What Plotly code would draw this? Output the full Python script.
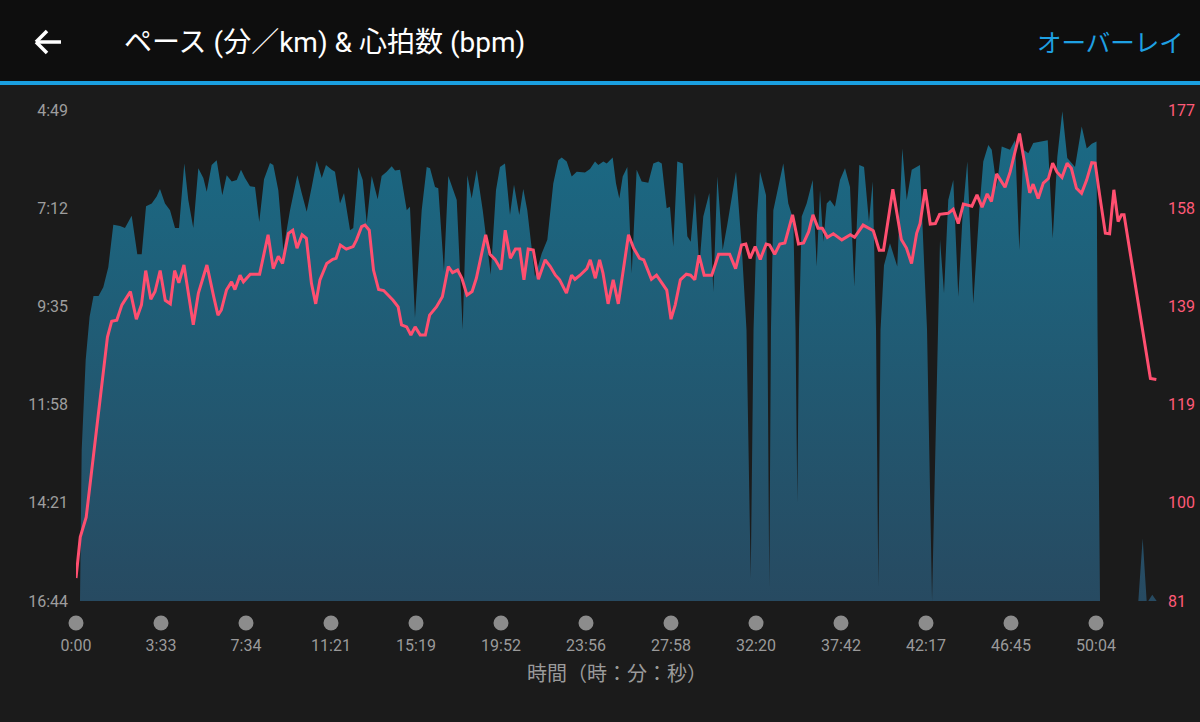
import plotly.graph_objects as go

# ---------------- data ----------------
# x position: 0..12 = evenly spaced split markers on the x axis (labels are elapsed time)
tick_pos = list(range(13))
tick_labels = ["0:00", "3:33", "7:34", "11:21", "15:19", "19:52", "23:56",
               "27:58", "32:20", "37:42", "42:17", "46:45", "50:04"]

# Pace (seconds per km); 1004 s (16:44) = bottom of the axis / no pace
pace_pos = [0.047, 0.067, 0.114, 0.160, 0.206, 0.265, 0.321, 0.380, 0.439, 0.518, 0.576, 0.655,
            0.721, 0.773, 0.824, 0.891, 0.949, 0.988, 1.047, 1.106, 1.165, 1.212, 1.274, 1.321,
            1.380, 1.439, 1.498, 1.538, 1.596, 1.655, 1.721, 1.773, 1.832, 1.891, 1.941, 1.988,
            2.047, 2.106, 2.156, 2.212, 2.282, 2.321, 2.380, 2.439, 2.518, 2.604, 2.655, 2.714,
            2.773, 2.832, 2.891, 2.941, 3.008, 3.047, 3.106, 3.153, 3.224, 3.262, 3.321, 3.373,
            3.420, 3.479, 3.549, 3.596, 3.655, 3.714, 3.753, 3.812, 3.891, 3.929, 3.988, 4.067,
            4.126, 4.165, 4.224, 4.262, 4.329, 4.380, 4.479, 4.549, 4.604, 4.655, 4.714, 4.785,
            4.879, 4.941, 4.988, 5.047, 5.106, 5.153, 5.215, 5.262, 5.309, 5.400, 5.479, 5.545,
            5.615, 5.674, 5.714, 5.773, 5.832, 5.891, 5.988, 6.047, 6.106, 6.145, 6.204, 6.244,
            6.314, 6.353, 6.392, 6.432, 6.486, 6.538, 6.596, 6.655, 6.733, 6.792, 6.851, 6.891,
            6.949, 6.988, 7.027, 7.074, 7.138, 7.192, 7.232, 7.282, 7.333, 7.380, 7.451, 7.498,
            7.545, 7.608, 7.662, 7.765, 7.832, 7.888, 7.938, 7.971, 8.012, 8.047, 8.118, 8.135,
            8.156, 8.176, 8.204, 8.321, 8.380, 8.439, 8.465, 8.486, 8.506, 8.538, 8.596, 8.667,
            8.714, 8.753, 8.792, 8.832, 8.871, 8.929, 8.988, 9.047, 9.106, 9.156, 9.215, 9.271,
            9.329, 9.373, 9.412, 9.439, 9.465, 9.506, 9.576, 9.662, 9.721, 9.773, 9.832, 9.929,
            9.976, 10.012, 10.071, 10.138, 10.165, 10.212, 10.262, 10.321, 10.380, 10.432, 10.486,
            10.556, 10.627, 10.674, 10.733, 10.773, 10.832, 10.891, 10.988, 11.047, 11.098, 11.145,
            11.204, 11.262, 11.341, 11.432, 11.491, 11.545, 11.604, 11.662, 11.753, 11.832, 11.891,
            11.951, 12.006, 12.018, 12.047, 12.498, 12.549, 12.596, 12.615, 12.662, 12.714]
pace_sec = [1004, 784, 653, 590, 560, 560, 547, 518, 456, 458, 461, 443,
            499, 499, 429, 425, 415, 404, 425, 435, 461, 461, 367, 420,
            461, 374, 388, 408, 369, 362, 413, 384, 393, 391, 376, 388,
            400, 401, 452, 390, 366, 369, 406, 493, 435, 384, 410, 437,
            401, 363, 388, 369, 376, 379, 425, 410, 464, 461, 372, 391,
            454, 385, 419, 385, 379, 371, 377, 376, 435, 430, 592, 435,
            372, 374, 401, 403, 524, 385, 420, 609, 384, 418, 376, 435,
            529, 406, 372, 367, 442, 398, 442, 404, 435, 532, 498, 478,
            396, 362, 358, 364, 386, 379, 380, 375, 364, 369, 364, 367,
            358, 396, 418, 386, 372, 527, 376, 393, 395, 367, 364, 367,
            432, 430, 488, 364, 367, 473, 481, 410, 517, 444, 410, 554,
            386, 493, 456, 379, 488, 609, 971, 609, 442, 379, 413, 609,
            985, 609, 435, 367, 425, 449, 609, 861, 609, 444, 425, 391,
            517, 406, 481, 425, 420, 430, 391, 374, 401, 546, 369, 372,
            452, 393, 609, 984, 609, 515, 483, 517, 345, 420, 376, 369,
            507, 609, 1004, 609, 478, 556, 420, 391, 561, 439, 364,
            571, 435, 364, 340, 347, 401, 342, 347, 333, 493, 347,
            352, 337, 335, 333, 476, 357, 291, 359, 372, 313, 345,
            338, 335, 609, 1004, 1004, 913, 1004, 1004, 995, 1004]

# Heart rate (bpm)
hr_pos = [0.00, 0.05, 0.12, 0.32, 0.37, 0.42, 0.48, 0.54, 0.64, 0.71, 0.77, 0.82, 0.88, 0.93,
          0.99, 1.05, 1.11, 1.16, 1.21, 1.27, 1.38, 1.44, 1.54, 1.62, 1.67, 1.71, 1.77, 1.83,
          1.87, 1.93, 1.97, 2.05, 2.16, 2.26, 2.32, 2.38, 2.43, 2.50, 2.55, 2.60, 2.66, 2.71,
          2.77, 2.82, 2.87, 2.95, 3.02, 3.06, 3.11, 3.18, 3.26, 3.30, 3.36, 3.40, 3.45, 3.50,
          3.56, 3.62, 3.73, 3.79, 3.83, 3.89, 3.94, 3.99, 4.05, 4.11, 4.16, 4.24, 4.31, 4.38,
          4.43, 4.49, 4.54, 4.60, 4.66, 4.71, 4.82, 4.87, 4.93, 5.00, 5.05, 5.11, 5.17, 5.22,
          5.27, 5.32, 5.38, 5.44, 5.52, 5.58, 5.64, 5.69, 5.77, 5.83, 5.87, 5.93, 6.01, 6.05,
          6.11, 6.16, 6.20, 6.26, 6.32, 6.38, 6.50, 6.56, 6.63, 6.68, 6.77, 6.83, 6.95, 7.00,
          7.05, 7.11, 7.18, 7.23, 7.28, 7.33, 7.39, 7.48, 7.56, 7.69, 7.76, 7.83, 7.88, 7.93,
          7.99, 8.05, 8.12, 8.16, 8.22, 8.28, 8.34, 8.43, 8.50, 8.56, 8.62, 8.67, 8.73, 8.78,
          8.84, 8.91, 9.01, 9.11, 9.16, 9.26, 9.38, 9.45, 9.50, 9.61, 9.71, 9.77, 9.83, 9.89,
          9.93, 9.99, 10.05, 10.11, 10.16, 10.26, 10.32, 10.38, 10.44, 10.54, 10.60, 10.66,
          10.72, 10.77, 10.83, 10.93, 10.99, 11.10, 11.14, 11.22, 11.26, 11.32, 11.38, 11.44,
          11.49, 11.54, 11.60, 11.66, 11.71, 11.77, 11.83, 11.89, 11.95, 11.99, 12.04, 12.11,
          12.16, 12.21, 12.26, 12.30, 12.33, 12.60, 12.64, 12.71]
hr_bpm = [85.5, 93.5, 97.4, 124.8, 132.6, 135.7, 135.9, 138.9, 141.5, 136.1, 138.9, 145.6, 140.0, 141.5,
          145.6, 139.8, 139.1, 145.6, 143.2, 146.7, 135.0, 141.2, 146.7, 140.5, 136.9, 137.9, 141.8, 143.4,
          141.9, 144.7, 143.4, 144.9, 144.9, 152.6, 146.0, 148.4, 147.0, 152.9, 153.5, 150.0, 152.6, 151.9,
          143.1, 139.1, 143.8, 147.0, 147.8, 148.0, 150.6, 149.8, 150.3, 151.6, 154.2, 154.5, 153.5, 145.7,
          141.9, 141.7, 139.8, 138.5, 135.0, 134.6, 133.0, 134.6, 133.0, 133.0, 136.9, 138.5, 140.5, 146.4,
          145.2, 145.7, 144.1, 140.8, 141.5, 144.1, 152.6, 148.8, 147.8, 145.8, 153.5, 148.0, 149.8, 149.8,
          143.8, 149.8, 149.6, 143.9, 147.7, 146.4, 144.7, 143.8, 141.2, 144.7, 143.9, 144.7, 146.0, 147.7,
          144.1, 147.7, 145.1, 139.1, 143.8, 139.1, 152.6, 150.0, 148.0, 147.7, 143.9, 144.7, 141.8, 136.1,
          138.9, 143.8, 144.9, 144.7, 143.8, 148.6, 144.7, 144.7, 148.8, 148.8, 146.0, 150.6, 150.8, 148.0,
          150.3, 147.8, 150.8, 150.6, 148.8, 150.8, 151.0, 156.5, 150.8, 151.0, 153.2, 156.5, 153.9, 153.9,
          152.1, 152.8, 151.6, 152.6, 152.1, 154.5, 153.4, 149.6, 149.6, 161.5, 151.7, 150.0, 147.0, 152.9,
          154.8, 161.5, 154.7, 154.8, 156.6, 156.8, 157.6, 154.8, 158.6, 158.2, 160.4, 158.0,
          160.6, 159.1, 164.5, 161.9, 164.9, 172.4, 168.8, 160.8, 162.5, 159.7, 162.7, 163.6,
          166.6, 164.9, 163.8, 166.6, 165.6, 161.7, 160.7, 163.3, 166.7, 166.6, 160.7, 152.9,
          152.8, 161.4, 155.2, 156.5, 156.5, 128.1, 124.5, 124.3]

# axis scales
pace_ticks = [289, 432, 575, 718, 861, 1004]
hr_ticks = [81, 100.2, 119.4, 138.6, 157.8, 177]
hr_tick_text = ["81", "100", "119", "139", "158", "177"]


def mmss(s):
    return f"{int(s) // 60}:{int(s) % 60:02d}"


# ---------------- layout geometry (pixels) ----------------
W, H = 1200, 722
L, R, T, B = 76, 1160, 110, 601
X_SPAN = (R - L) / 85.0   # x-axis range in split units


def px(xp):
    return (xp - L) / (R - L)


def py(yp):
    return (B - yp) / (B - T)


LATIN = "Roboto, 'Noto Sans CJK JP', sans-serif"
CJK = "'Noto Sans CJK JP', sans-serif"

fig = go.Figure()
fig.add_trace(go.Scatter(
    x=pace_pos, y=pace_sec, mode="lines", fill="toself",
    line=dict(width=0, color="rgba(0,0,0,0)"),
    fillgradient=dict(type="vertical", start=max(pace_ticks), stop=min(pace_ticks),
                      colorscale=[[0, "#274a61"], [1, "#1a6b86"]]),
    hoverinfo="skip", showlegend=False, yaxis="y"))
fig.add_trace(go.Scatter(
    x=hr_pos, y=hr_bpm, mode="lines", line=dict(color="#ff4f70", width=3),
    hoverinfo="skip", showlegend=False, yaxis="y2"))

shapes = [
    dict(type="rect", xref="paper", yref="paper", x0=px(0), x1=px(W), y0=py(81), y1=py(0),
         fillcolor="#0e0e0e", line=dict(width=0), layer="above"),
    dict(type="rect", xref="paper", yref="paper", x0=px(0), x1=px(W), y0=py(85), y1=py(81),
         fillcolor="#1a9fe0", line=dict(width=0), layer="above"),
    # back arrow
    dict(type="line", xref="paper", yref="paper", x0=px(36), x1=px(61), y0=py(42), y1=py(42),
         line=dict(color="white", width=3.5)),
    dict(type="line", xref="paper", yref="paper", x0=px(36), x1=px(47), y0=py(42), y1=py(31),
         line=dict(color="white", width=3.5)),
    dict(type="line", xref="paper", yref="paper", x0=px(36), x1=px(47), y0=py(42), y1=py(53),
         line=dict(color="white", width=3.5)),
]
for p in tick_pos:
    shapes.append(dict(type="circle", xref="paper", yref="paper", xsizemode="pixel", ysizemode="pixel",
                       xanchor=p / X_SPAN, yanchor=py(623), x0=-7.5, x1=7.5, y0=-7.5, y1=7.5,
                       fillcolor="#8c8c8c", line=dict(width=0)))

annotations = [
    dict(text="ペース (分／km) & 心拍数 (bpm)", xref="paper", yref="paper", x=px(122), y=py(43),
         xanchor="left", yanchor="middle", showarrow=False,
         font=dict(family=LATIN, size=28, color="#ffffff")),
    dict(text="オーバーレイ", xref="paper", yref="paper", x=px(1186), y=py(41),
         xanchor="right", yanchor="middle", showarrow=False,
         font=dict(family=CJK, size=24.5, color="#1ea0e2")),
    dict(text="時間（時：分：秒）", xref="paper", yref="paper", x=px(617), y=py(672),
         xanchor="center", yanchor="middle", showarrow=False,
         font=dict(family=CJK, size=20, color="#9a9a9a")),
]

fig.update_layout(
    width=W, height=H, autosize=False,
    margin=dict(l=L, r=W - R, t=T, b=H - B, pad=0, autoexpand=False),
    paper_bgcolor="#1b1b1b", plot_bgcolor="#1b1b1b",
    showlegend=False, hovermode=False,
    shapes=shapes, annotations=annotations,
    xaxis=dict(range=[0, X_SPAN], tickvals=tick_pos, ticktext=tick_labels,
               showgrid=False, zeroline=False, showline=False, ticks="", automargin=False,
               tickfont=dict(family="Roboto", size=16, color="#9a9a9a"),
               ticklabelstandoff=33, fixedrange=True),
    yaxis=dict(range=[max(pace_ticks), min(pace_ticks)], tickvals=pace_ticks,
               ticktext=[mmss(v) for v in pace_ticks], automargin=False,
               showgrid=False, zeroline=False, showline=False, ticks="",
               tickfont=dict(family="Roboto", size=16, color="#9e9e9e"),
               ticklabelstandoff=7),
    yaxis2=dict(range=[hr_ticks[0], hr_ticks[-1]], tickvals=hr_ticks, ticktext=hr_tick_text,
                overlaying="y", side="right", automargin=False,
                showgrid=False, zeroline=False, showline=False, ticks="",
                tickfont=dict(family="Roboto", size=16, color="#ff5a78"),
                ticklabelstandoff=7),
)

fig.write_html("out.html")
